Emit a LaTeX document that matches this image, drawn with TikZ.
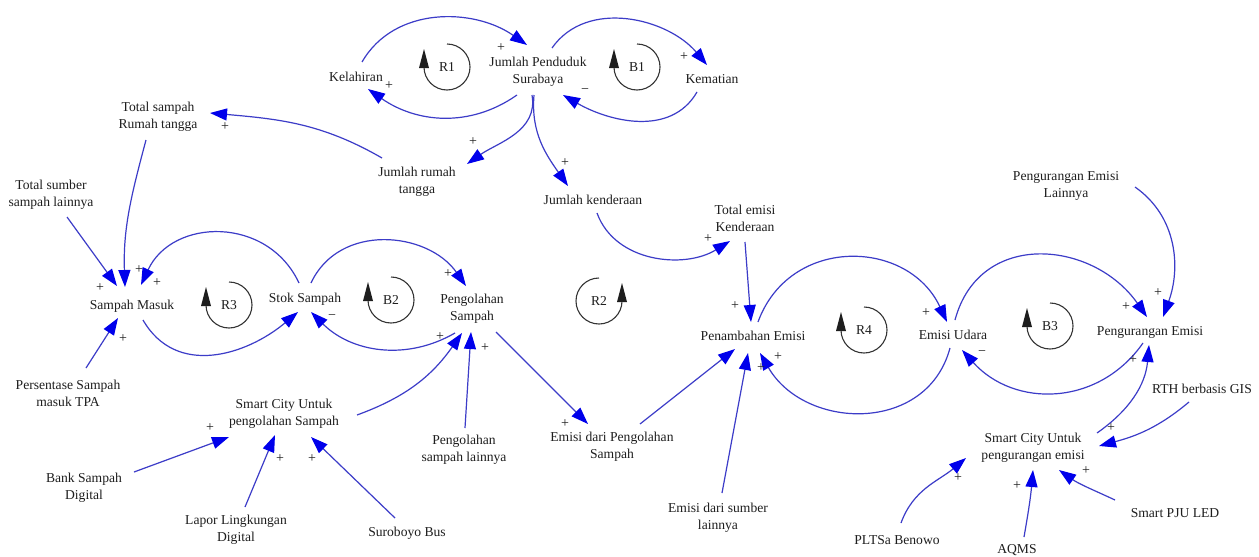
\documentclass[tikz,border=0pt]{standalone}
\usepackage{fontspec}
\setmainfont{Liberation Serif}
\usetikzlibrary{arrows.meta}
\definecolor{lineblue}{RGB}{60,60,200}
\definecolor{headblue}{RGB}{0,0,235}
\definecolor{txt}{RGB}{30,30,30}
\newcommand{\loopL}[4]{%
  \draw[loopc] (#1,#2+23) arc[start angle=90,end angle=-180,radius=23];
  \fill[txt] (#1-28,#2-1) -- (#1-18,#2-1) -- (#1-23,#2+18) -- cycle;
  \node[lbl] (#4) at (#1,#2) {#3};}
\newcommand{\loopR}[4]{%
  \draw[loopc] (#1,#2+23) arc[start angle=90,end angle=360,radius=23];
  \fill[txt] (#1+28,#2-1) -- (#1+18,#2-1) -- (#1+23,#2+18) -- cycle;
  \node[lbl] (#4) at (#1,#2) {#3};}
\begin{document}
\begin{tikzpicture}[x=1pt,y=1pt,
  lbl/.style={font=\fontsize{13.6}{17}\selectfont, align=center, inner sep=0pt, text=txt},
  sgn/.style={font=\fontsize{14}{14}\selectfont, inner sep=0pt, text=txt},
  loopc/.style={draw=txt!90, line width=1.1pt},
  conn/.style={draw=lineblue, line width=1.2pt, -{Triangle[length=17pt,width=12pt,color=headblue]}}
  ]
\useasboundingbox[fill=white] (0,0) rectangle (1259,-557);

% nodes
\node[lbl] (kel) at (356,-77) {Kelahiran};
\node[lbl] (jp) at (538,-72) {Jumlah Penduduk\\Surabaya};
\node[lbl] (kem) at (712,-79) {Kematian};
\node[lbl] (totrt) at (158,-117) {Total sampah\\Rumah tangga};
\node[lbl] (jrt) at (417,-182) {Jumlah rumah\\tangga};
\node[lbl] (jk) at (593,-200) {Jumlah kenderaan};
\node[lbl] (totsum) at (51,-195) {Total sumber\\sampah lainnya};
\node[lbl] (sm) at (132,-306) {Sampah Masuk};
\node[lbl] (stok) at (305,-299) {Stok Sampah};
\node[lbl] (peng) at (472,-309) {Pengolahan\\Sampah};
\node[lbl] (pers) at (68,-393) {Persentase Sampah\\masuk TPA};
\node[lbl] (scp) at (284,-414) {Smart City Untuk\\pengolahan Sampah};
\node[lbl] (penglain) at (464,-450) {Pengolahan\\sampah lainnya};
\node[lbl] (emdari) at (612,-447) {Emisi dari Pengolahan\\Sampah};
\node[lbl] (bank) at (84,-488) {Bank Sampah\\Digital};
\node[lbl] (lapor) at (236,-530) {Lapor Lingkungan\\Digital};
\node[lbl] (surob) at (407,-533) {Suroboyo Bus};
\node[lbl] (totem) at (745,-218) {Total emisi\\Kenderaan};
\node[lbl] (pen) at (753,-336) {Penambahan Emisi};
\node[lbl] (eu) at (953,-335) {Emisi Udara};
\node[lbl] (pe) at (1150,-332) {Pengurangan Emisi};
\node[lbl] (pel) at (1066,-186) {Pengurangan Emisi\\Lainnya};
\node[lbl] (rth) at (1202,-389) {RTH berbasis GIS};
\node[lbl] (sce) at (1033,-448) {Smart City Untuk\\pengurangan emisi};
\node[lbl] (emsum) at (718,-518) {Emisi dari sumber\\lainnya};
\node[lbl] (plts) at (897,-540) {PLTSa Benowo};
\node[lbl] (aqms) at (1017,-550) {AQMS};
\node[lbl] (pju) at (1175,-513) {Smart PJU LED};

% loop markers
\loopL{447}{-67}{R1}{r1}
\loopL{637}{-67}{B1}{b1}
\loopL{229}{-305}{R3}{r3}
\loopL{391}{-300}{B2}{b2}
\loopR{599}{-301}{R2}{r2}
\loopL{864}{-330}{R4}{r4}
\loopL{1050}{-326}{B3}{b3}

% connectors
\draw[conn] ([shift={(6,15)}]kel.center) to[out=60,in=145] ([shift={(-11,27)}]jp.center);
\draw[conn] ([shift={(-21,-23)}]jp.center) to[out=-145,in=-35] ([shift={(12,-12)}]kel.center);
\draw[conn] ([shift={(14,24)}]jp.center) to[out=55,in=130] ([shift={(-5,14)}]kem.center);
\draw[conn] ([shift={(-15,-13)}]kem.center) to[out=-120,in=-30] ([shift={(25,-23)}]jp.center);
\draw[conn] ([shift={(-6,-23)}]jp.center) to[out=-80,in=35] ([shift={(50,18)}]jrt.center);
\draw[conn] ([shift={(-4,-23)}]jp.center) to[out=-95,in=125] ([shift={(-25,14)}]jk.center);
\draw[conn] ([shift={(-35,24)}]jrt.center) to[out=150,in=-5] ([shift={(52,4)}]totrt.center);
\draw[conn] ([shift={(-12,-23)}]totrt.center) to[out=-105,in=92] ([shift={(-7,19)}]sm.center);
\draw[conn] ([shift={(16,-22)}]totsum.center) -- ([shift={(-15,20)}]sm.center);
\draw[conn] ([shift={(-6,16)}]stok.center) to[out=115,in=65,looseness=1.2] ([shift={(9,21)}]sm.center);
\draw[conn] ([shift={(18,25)}]pers.center) -- ([shift={(-14,-12)}]sm.center);
\draw[conn] ([shift={(11,-14)}]sm.center) to[out=-60,in=-140,looseness=1.1] ([shift={(-7,-13)}]stok.center);
\draw[conn] ([shift={(6,16)}]stok.center) to[out=65,in=125,looseness=1.1] ([shift={(-6,23)}]peng.center);
\draw[conn] ([shift={(-17,-24)}]peng.center) to[out=-150,in=-45] ([shift={(6,-13)}]stok.center);
\draw[conn] ([shift={(73,-1)}]scp.center) to[out=20,in=-125] ([shift={(-10,-24)}]peng.center);
\draw[conn] ([shift={(1,22)}]penglain.center) -- ([shift={(-1,-23)}]peng.center);
\draw[conn] ([shift={(24,-23)}]peng.center) -- ([shift={(-24,23)}]emdari.center);
\draw[conn] ([shift={(50,16)}]bank.center) -- ([shift={(-55,-23)}]scp.center);
\draw[conn] ([shift={(9,23)}]lapor.center) -- ([shift={(-9,-21)}]scp.center);
\draw[conn] ([shift={(-12,15)}]surob.center) -- ([shift={(27,-23)}]scp.center);
\draw[conn] ([shift={(4,-13)}]jk.center) to[out=-70,in=-148] ([shift={(-15,-23)}]totem.center);
\draw[conn] ([shift={(0,-24)}]totem.center) -- ([shift={(-2,14)}]pen.center);
\draw[conn] ([shift={(5,14)}]pen.center) to[out=70,in=115,looseness=1.25] ([shift={(-6,13)}]eu.center);
\draw[conn] ([shift={(-3,-13)}]eu.center) to[out=-105,in=-60,looseness=1.2] ([shift={(7,-17)}]pen.center);
\draw[conn] ([shift={(28,23)}]emdari.center) -- ([shift={(-18,-13)}]pen.center);
\draw[conn] ([shift={(4,25)}]emsum.center) -- ([shift={(-5,-17)}]pen.center);
\draw[conn] ([shift={(2,15)}]eu.center) to[out=75,in=125,looseness=1.25] ([shift={(-3,15)}]pe.center);
\draw[conn] ([shift={(69,-1)}]pel.center) to[out=-35,in=70] ([shift={(13,15)}]pe.center);
\draw[conn] ([shift={(-7,-11)}]pe.center) to[out=-125,in=-48,looseness=1.1] ([shift={(9,-15)}]eu.center);
\draw[conn] ([shift={(64,15)}]sce.center) to[out=35,in=-95] ([shift={(-1,-13)}]pe.center);
\draw[conn] ([shift={(-13,-13)}]rth.center) to[out=-140,in=15] ([shift={(66,2)}]sce.center);
\draw[conn] ([shift={(4,17)}]plts.center) to[out=70,in=-140] ([shift={(-67,-10)}]sce.center);
\draw[conn] ([shift={(7,13)}]aqms.center) to[out=80,in=-95] ([shift={(0,-22)}]sce.center);
\draw[conn] ([shift={(-60,13)}]pju.center) to[out=155,in=-35] ([shift={(26,-22)}]sce.center);

% polarity signs
\node[sgn] (s1) at (501,-48) {+};
\node[sgn] (s2) at (389,-86) {+};
\node[sgn] (s3) at (684,-57) {+};
\node[sgn] (s4) at (585,-91) {−};
\node[sgn] (s5) at (473,-142) {+};
\node[sgn] (s6) at (565,-163) {+};
\node[sgn] (s7) at (225,-127) {+};
\node[sgn] (s8) at (139,-270) {+};
\node[sgn] (s9) at (100,-288) {+};
\node[sgn] (s10) at (157,-283) {+};
\node[sgn] (s11) at (123,-339) {+};
\node[sgn] (s12) at (448,-274) {+};
\node[sgn] (s13) at (332,-317) {−};
\node[sgn] (s14) at (440,-337) {+};
\node[sgn] (s15) at (485,-348) {+};
\node[sgn] (s16) at (565,-424) {+};
\node[sgn] (s17) at (210,-428) {+};
\node[sgn] (s18) at (280,-459) {+};
\node[sgn] (s19) at (312,-459) {+};
\node[sgn] (s20) at (708,-239) {+};
\node[sgn] (s21) at (735,-306) {+};
\node[sgn] (s22) at (926,-313) {+};
\node[sgn] (s23) at (778,-357) {+};
\node[sgn] (s24) at (761,-368) {+};
\node[sgn] (s25) at (1126,-307) {+};
\node[sgn] (s26) at (1158,-293) {+};
\node[sgn] (s27) at (982,-353) {−};
\node[sgn] (s28) at (1133,-360) {+};
\node[sgn] (s29) at (1111,-428) {+};
\node[sgn] (s30) at (958,-478) {+};
\node[sgn] (s31) at (1017,-486) {+};
\node[sgn] (s32) at (1086,-471) {+};
\end{tikzpicture}
\end{document}
